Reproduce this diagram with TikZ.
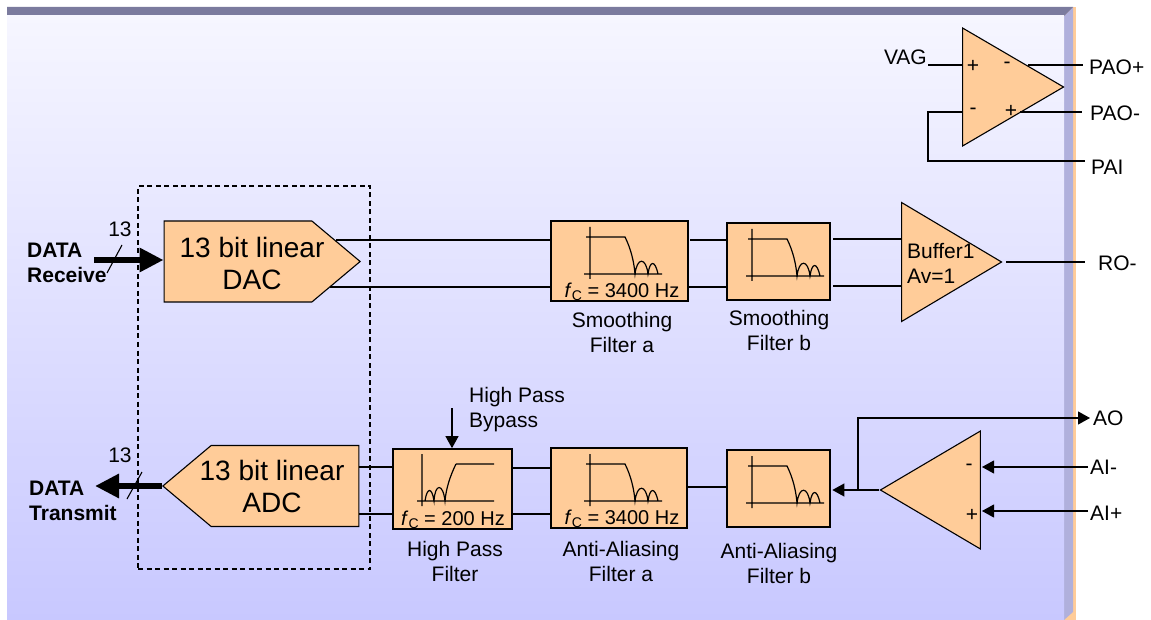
\documentclass[tikz,border=0pt]{standalone}
\usepackage{fontspec}
\setmainfont{Liberation Sans}
\usetikzlibrary{arrows.meta,shapes.geometric,shapes.symbols}
\definecolor{blockfill}{HTML}{FFCC99}
\definecolor{paneltop}{HTML}{F6F6FF}
\definecolor{panelbottom}{HTML}{C8C8FF}
\definecolor{bevelside}{HTML}{B0B0DC}
\definecolor{beveltop}{HTML}{7B7B9E}
\newcommand{\fcut}[1]{{\fontsize{20}{24}\selectfont\textit{f}\raisebox{-0.3ex}{\fontsize{14}{14}\selectfont C} = #1 Hz}}

\begin{document}
\begin{tikzpicture}
        [
            x = 1pt, y = -1pt,
            every node/.style       = {font=\fontsize{21}{25}\selectfont, inner sep=0pt, align=center},
            wire/.style             = {draw, line width=1.1pt},
            boxed/.style            = {shape=rectangle, draw, line width=1.7pt, fill=blockfill},
            dataarrow/.style        = {draw, line width=6pt, -{Triangle[length=24pt, width=23pt]}},
            sigarrow/.style         = {draw, line width=1.1pt, -{Triangle[length=12pt, width=13pt]}},
            plate/.style            = {shape=signal, signal from=nowhere, signal pointer angle=80, draw,
                                       line width=1.1pt, fill=blockfill, minimum width=196pt, minimum height=81pt},
            amp/.style              = {shape=isosceles triangle, isosceles triangle stretches, draw,
                                       line width=1.1pt, fill=blockfill, anchor=apex},
            bigtext/.style          = {font=\fontsize{28}{32}\selectfont},
            lowpass/.pic            = {
                \draw [line width=1.2pt] (0,-47) -- (0,5) (-6,0) -- (72,0) (-4,-37) -- (35,-37)
                    .. controls (41,-25) and (44,-12) .. (45,0)
                    .. controls (47,-17) and (56,-17) .. (58,0)
                    .. controls (60,-14) and (65,-14) .. (68,0);
            },
            highpass/.pic           = {
                \draw [line width=1.2pt] (0,-47) -- (0,5) (-5,0) -- (72,0) (34,-37) -- (72,-37)
                    (34,-37) .. controls (28,-25) and (24,-12) .. (23,0)
                    .. controls (21,-18) and (13,-18) .. (12,0)
                    .. controls (10,-14) and (5,-14) .. (3,0);
            },
        ]
        \useasboundingbox (0,0) rectangle (1151,620);

        % panel behind everything
        \fill [blockfill] (1064,7) rectangle (1076,620);
        \fill [bevelside] (1064,16) -- (1073,7) -- (1073,612) -- (1064,620) -- cycle;
        \fill [beveltop] (7,7) -- (1073,7) -- (1064,16) -- (7,16) -- cycle;
        \shade [top color=paneltop, bottom color=panelbottom] (7,16) rectangle (1064,620);

        % power amplifier
        \node [amp, minimum width=118pt, minimum height=101pt] (poweramp) at (1065,87) {};
        \coordinate (vagin) at (962,65);
        \coordinate (paiin) at (962,112);
        \coordinate (paoplus) at (1028,65);
        \coordinate (paominus) at (1020,112);
        \coordinate (paibend) at (928,112);
        \node [anchor=east] (vag) at (927,57) {VAG};
        \node [anchor=west] (paoplabel) at (1089,67) {PAO+};
        \node [anchor=west] (paomlabel) at (1090,113) {PAO-};
        \node [anchor=west] (pailabel) at (1091,167) {PAI};
        \draw [wire] (vagin -| paibend) -- (vagin);
        \draw [wire] (paoplus) -- (1083,65);
        \draw [wire] (paominus) -- (1082,112);
        \draw [wire] (paiin) -- (paibend) |- (1085,161);
        \node (pasignpi) at (973,66) {+};
        \node (pasignno) at (1007,65) {-};
        \node (pasignni) at (973,111) {-};
        \node (pasignpo) at (1011,111) {+};

        % receive path
        \node [draw, dash pattern=on 5pt off 3.5pt, line width=1.5pt, minimum width=232pt, minimum height=383pt] (codec) at (254,377.5) {};
        \node [plate, signal to=east] (dac) at (238,261.5) {};
        \node [bigtext] (daclabel) at (252,263) {13 bit linear\\DAC};
        \node [boxed, minimum width=137pt, minimum height=80pt] (smootha) at (619.5,261) {};
        \node [boxed, minimum width=103pt, minimum height=77pt] (smoothb) at (778.5,261.5) {};
        \pic at (590,274) {lowpass};
        \pic at (752,276) {lowpass};
        \node [anchor=south] at (622,301) (smoothafc) {\fcut{3400}};
        \node [anchor=north] (smoothalabel) at (622,312) {Smoothing\\Filter a};
        \node [anchor=north] (smoothblabel) at (779,310) {Smoothing\\Filter b};
        \node [amp, minimum width=119pt, minimum height=100pt] (buffer) at (1003,262) {};
        \node [anchor=west, align=left] (bufferlabel) at (907,263) {Buffer1\\Av=1};
        \node [anchor=west] (rolabel) at (1098,263) {RO-};
        \coordinate (dachigh) at (336,240);
        \coordinate (daclow) at (330,287);
        \coordinate (bufferhigh) at (901,239);
        \coordinate (bufferlow) at (901,286);
        \coordinate (roout) at (1006,262);
        \draw [wire] (dachigh) -- (smootha.west |- dachigh);
        \draw [wire] (daclow) -- (smootha.west |- daclow);
        \draw [wire] (690,240) -- (smoothb.west |- 0,240);
        \draw [wire] (smootha.east |- 0,287) -- (smoothb.west |- 0,287);
        \draw [wire] (833,239) -- (bufferhigh);
        \draw [wire] (833,286) -- (bufferlow);
        \draw [wire] (roout) -- (1085,262);
        \node [anchor=west, align=left, font=\bfseries\fontsize{21}{25}\selectfont] (rxlabel) at (27,262.5) {DATA\\Receive};
        \node (rxwidth) at (120,229) {13};
        \coordinate (rxtail) at (94,260);
        \draw [dataarrow] (rxtail) -- (dac.west |- rxtail);
        \draw [line width=1.1pt] (107,273) -- (122,245);

        % transmit path
        \node [plate, signal to=west] (adc) at (285,486) {};
        \node [bigtext] (adclabel) at (272,486) {13 bit linear\\ADC};
        \node [boxed, minimum width=119pt, minimum height=80pt] (highpass) at (452.5,489) {};
        \node [boxed, minimum width=136pt, minimum height=80pt] (aliasa) at (619,488) {};
        \node [boxed, minimum width=103pt, minimum height=77pt] (aliasb) at (778.5,488.5) {};
        \pic at (422,501) {highpass};
        \pic at (590,501) {lowpass};
        \pic at (752,503) {lowpass};
        \node [anchor=south] (highpassfc) at (453,529) {\fcut{200}};
        \node [anchor=south] (aliasafc) at (622,528) {\fcut{3400}};
        \node [anchor=north] (highpasslabel) at (455,541) {High Pass\\Filter};
        \node [anchor=north] (aliasalabel) at (621,541) {Anti-Aliasing\\Filter a};
        \node [anchor=north] (aliasblabel) at (779,543) {Anti-Aliasing\\Filter b};
        \node [anchor=west, align=left] (bypasslabel) at (469,410) {High Pass\\Bypass};
        \coordinate (bypasstop) at (452,408);
        \draw [sigarrow] (bypasstop) -- (highpass.north -| bypasstop);
        \draw [wire] (359,467) -- (highpass.west |- 0,467);
        \draw [wire] (359,514) -- (highpass.west |- 0,514);
        \draw [wire] (513,468) -- (aliasa.west |- 0,468);
        \draw [wire] (highpass.east |- 0,514) -- (aliasa.west |- 0,514);
        \draw [wire] (aliasa.east |- 0,487) -- (aliasb.west |- 0,487);

        \node [amp, minimum width=118pt, minimum height=100pt, shape border rotate=180] (inputamp) at (879,490) {};
        \node (iasignn) at (969,467) {-};
        \node (iasignp) at (972,515) {+};
        \node [anchor=west] (aolabel) at (1093,418) {AO};
        \node [anchor=west] (aimlabel) at (1090,467) {AI-};
        \node [anchor=west] (aiplabel) at (1090,513) {AI+};
        \coordinate (aotap) at (858,490);
        \coordinate (aotip) at (1090,418);
        \draw [sigarrow, shorten >=1.5pt] (inputamp.apex) -- (aliasb.east |- inputamp.apex);
        \draw [sigarrow] (aotap) |- (aotip);
        \draw [sigarrow] (1088,467) -- (982,467);
        \draw [sigarrow] (1088,511) -- (982,511);
        \node [anchor=west, align=left, font=\bfseries\fontsize{21}{25}\selectfont] (txlabel) at (29,500.5) {DATA\\Transmit};
        \node (txwidth) at (120,455) {13};
        \coordinate (txtip) at (95,486);
        \draw [dataarrow] (adc.west) -- (txtip);
        \draw [line width=1.1pt] (127,499) -- (142,472);
    \end{tikzpicture}
\end{document}
